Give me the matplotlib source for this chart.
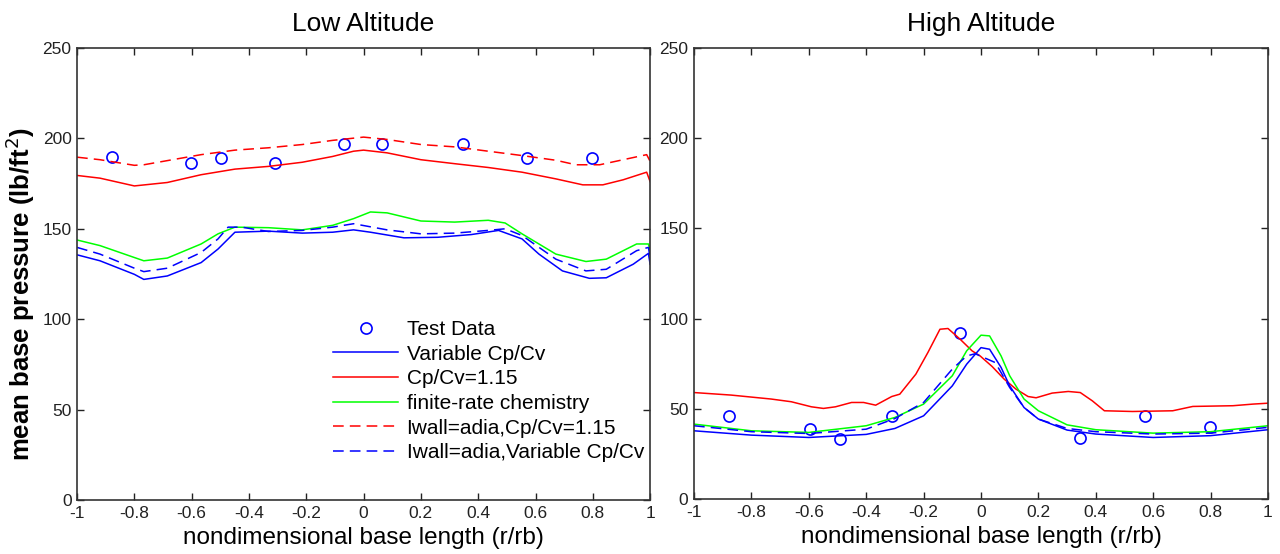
import matplotlib
matplotlib.use("Agg")
import matplotlib.pyplot as plt

# ---- Low altitude data ----
low_test_x = [-0.879, -0.602, -0.497, -0.308, -0.068, 0.066, 0.346, 0.572, 0.798]
low_test_y = [189.5, 186.6, 189.3, 186.6, 196.7, 196.7, 196.7, 189.3, 189.3]

low_red_dash_x = [-1.0, -0.92, -0.80, -0.767, -0.685, -0.567, -0.449, -0.332, -0.214, -0.108,
                  0.0, 0.082, 0.2, 0.318, 0.435, 0.553, 0.671, 0.741, 0.824, 0.906, 0.988, 1.0]
low_red_dash_y = [189.6, 188.2, 185.1, 185.4, 187.7, 191.0, 193.5, 194.8, 196.6, 198.9,
                  200.7, 199.4, 196.6, 195.3, 192.9, 190.5, 187.9, 185.4, 185.4, 188.2, 191.0, 187.3]

low_red_x = [-1.0, -0.92, -0.80, -0.685, -0.567, -0.449, -0.332, -0.214, -0.108, -0.035,
             0.0, 0.082, 0.2, 0.318, 0.435, 0.553, 0.671, 0.765, 0.835, 0.906, 0.988, 1.0]
low_red_y = [179.5, 178.0, 173.7, 175.6, 179.9, 183.0, 184.5, 186.8, 190.0, 192.9,
             193.5, 192.0, 188.2, 186.0, 183.9, 181.3, 177.6, 174.3, 174.3, 177.1, 181.3, 176.1]

low_green_x = [-1.0, -0.92, -0.80, -0.767, -0.685, -0.567, -0.508, -0.449, -0.332, -0.214,
               -0.108, -0.035, 0.024, 0.082, 0.2, 0.318, 0.435, 0.494, 0.553, 0.671,
               0.776, 0.847, 0.953, 0.994, 1.0]
low_green_y = [143.8, 140.7, 134.1, 132.3, 133.8, 141.6, 147.2, 150.9, 150.6, 149.4,
               151.9, 155.6, 159.3, 158.8, 154.3, 153.7, 154.7, 153.2, 147.2, 136.0,
               131.9, 133.2, 141.6, 141.6, 137.9]

low_blue_x = [-1.0, -0.92, -0.80, -0.767, -0.685, -0.567, -0.508, -0.449, -0.332, -0.214,
              -0.108, -0.035, 0.024, 0.141, 0.259, 0.376, 0.471, 0.553, 0.612, 0.694,
              0.788, 0.847, 0.941, 0.994, 1.0]
low_blue_y = [135.6, 132.3, 124.8, 122.0, 123.9, 131.3, 138.8, 148.1, 148.7, 147.6,
              148.1, 149.4, 148.1, 145.0, 145.3, 146.8, 149.1, 144.4, 136.0, 126.7,
              122.6, 122.9, 130.4, 136.4, 130.4]

low_blue_dash_x = [-1.0, -0.92, -0.80, -0.767, -0.685, -0.567, -0.508, -0.473, -0.426, -0.332,
                   -0.214, -0.108, -0.035, 0.082, 0.2, 0.318, 0.435, 0.494, 0.553, 0.671,
                   0.776, 0.847, 0.953, 0.994, 1.0]
low_blue_dash_y = [139.7, 136.0, 128.2, 126.3, 128.2, 136.9, 144.4, 150.9, 150.9, 148.5,
                   149.1, 150.9, 152.8, 149.4, 147.2, 147.6, 149.1, 150.0, 146.3, 133.2,
                   126.7, 127.6, 137.9, 139.7, 134.1]

# ---- High altitude data ----
high_test_x = [-0.878, -0.597, -0.491, -0.310, -0.074, 0.344, 0.573, 0.798]
high_test_y = [45.8, 38.7, 33.2, 46.1, 91.9, 33.6, 45.8, 40.0]

high_red_x = [-1.0, -0.871, -0.731, -0.661, -0.591, -0.549, -0.507, -0.451, -0.409, -0.367,
              -0.311, -0.283, -0.227, -0.185, -0.143, -0.115, -0.073, -0.031, -0.003, 0.039,
              0.081, 0.122, 0.164, 0.192, 0.248, 0.304, 0.346, 0.388, 0.430, 0.528,
              0.668, 0.738, 0.878, 0.948, 1.0]
high_red_y = [59.0, 57.6, 55.4, 53.9, 51.1, 50.2, 51.1, 53.5, 53.5, 52.0,
              56.8, 58.1, 69.2, 81.2, 94.1, 94.5, 88.6, 82.1, 79.3, 73.4,
              66.4, 60.9, 56.8, 56.1, 58.7, 59.6, 59.0, 54.4, 48.9, 48.5,
              48.9, 51.3, 51.7, 52.6, 53.1]

high_green_x = [-1.0, -0.8, -0.6, -0.4, -0.3, -0.2, -0.1, -0.05, 0.0, 0.03,
                0.07, 0.1, 0.15, 0.2, 0.3, 0.4, 0.6, 0.8, 1.0]
high_green_y = [41.5, 37.8, 36.9, 40.6, 45.2, 52.6, 68.3, 82.1, 90.8, 90.4,
                79.3, 68.3, 55.4, 48.9, 41.1, 38.4, 36.5, 37.3, 40.6]

high_blue_x = [-1.0, -0.8, -0.6, -0.4, -0.3, -0.2, -0.1, -0.05, 0.0, 0.03,
               0.07, 0.1, 0.15, 0.2, 0.3, 0.4, 0.6, 0.8, 1.0]
high_blue_y = [37.8, 35.4, 34.1, 35.8, 39.1, 46.1, 62.7, 74.7, 83.9, 83.0,
               72.9, 62.7, 50.7, 44.3, 38.2, 36.0, 34.1, 35.1, 38.4]

high_blue_dash_x = [-1.0, -0.8, -0.6, -0.4, -0.3, -0.2, -0.1, -0.05, -0.02, 0.05,
                    0.1, 0.15, 0.2, 0.3, 0.4, 0.6, 0.8, 1.0]
high_blue_dash_y = [40.6, 37.3, 36.3, 38.7, 44.6, 53.5, 72.0, 79.3, 80.5, 75.6,
                    61.8, 50.7, 44.3, 39.1, 37.3, 36.0, 36.5, 39.7]

labels = ["Test Data", "Variable Cp/Cv", "Cp/Cv=1.15", "finite-rate chemistry",
          "Iwall=adia,Cp/Cv=1.15", "Iwall=adia,Variable Cp/Cv"]
xticks = [-1, -0.8, -0.6, -0.4, -0.2, 0, 0.2, 0.4, 0.6, 0.8, 1]
xtick_labels = ["-1", "-0.8", "-0.6", "-0.4", "-0.2", "0", "0.2", "0.4", "0.6", "0.8", "1"]
yticks = [0, 50, 100, 150, 200, 250]

BLUE = '#0000ff'
RED = '#ff0000'
GREEN = '#00ff00'
plt.rcParams['font.family'] = ['Liberation Sans', 'DejaVu Sans']

fig = plt.figure(figsize=(12.8, 5.54), dpi=100)
ax1 = fig.add_axes([0.0602, 0.0975, 0.4477, 0.8159])
ax2 = fig.add_axes([0.5422, 0.0993, 0.4484, 0.8141])

dash = (7, 4)


def style_axes(ax, title):
    ax.set_xlim(-1, 1)
    ax.set_ylim(0, 250)
    ax.set_xticks(xticks)
    ax.set_xticklabels(xtick_labels)
    ax.set_yticks(yticks)
    ax.tick_params(direction='in', top=True, right=True, length=5, width=1,
                   color='#222222', labelsize=12.5, pad=4, labelcolor='#222222')
    for s in ax.spines.values():
        s.set_color('#333333')
        s.set_linewidth(1.2)
    ax.set_title(title, fontsize=19, pad=12)
    ax.set_xlabel("nondimensional base length (r/rb)", fontsize=17.5, labelpad=5)


# left panel
ax1.plot(low_test_x, low_test_y, 'o', color=BLUE, mfc='none', ms=8, mew=1.2, label=labels[0])
ax1.plot(low_blue_x, low_blue_y, '-', color=BLUE, lw=1.1, label=labels[1])
ax1.plot(low_red_x, low_red_y, '-', color=RED, lw=1.1, label=labels[2])
ax1.plot(low_green_x, low_green_y, '-', color=GREEN, lw=1.1, label=labels[3])
ax1.plot(low_red_dash_x, low_red_dash_y, '--', color=RED, lw=1.1, dashes=dash, label=labels[4])
ax1.plot(low_blue_dash_x, low_blue_dash_y, '--', color=BLUE, lw=1.1, dashes=dash, label=labels[5])
style_axes(ax1, "Low Altitude")
ax1.set_ylabel("mean base pressure (lb/ft$^2$)", fontsize=18.5, fontweight='bold')
ax1.yaxis.set_label_coords(-0.07, 0.456)

leg = ax1.legend(loc='upper left', bbox_to_anchor=(0.447, 0.398), frameon=False,
                 borderpad=0, borderaxespad=0, numpoints=1, handlelength=3.13,
                 handletextpad=0.39, labelspacing=0.27, fontsize=15)

# right panel
ax2.plot(high_test_x, high_test_y, 'o', color=BLUE, mfc='none', ms=8, mew=1.2)
ax2.plot(high_red_x, high_red_y, '-', color=RED, lw=1.1)
ax2.plot(high_green_x, high_green_y, '-', color=GREEN, lw=1.1)
ax2.plot(high_blue_dash_x, high_blue_dash_y, '--', color=BLUE, lw=1.1, dashes=dash)
ax2.plot(high_blue_x, high_blue_y, '-', color=BLUE, lw=1.1)
style_axes(ax2, "High Altitude")

fig.savefig('out.png', dpi=100)
